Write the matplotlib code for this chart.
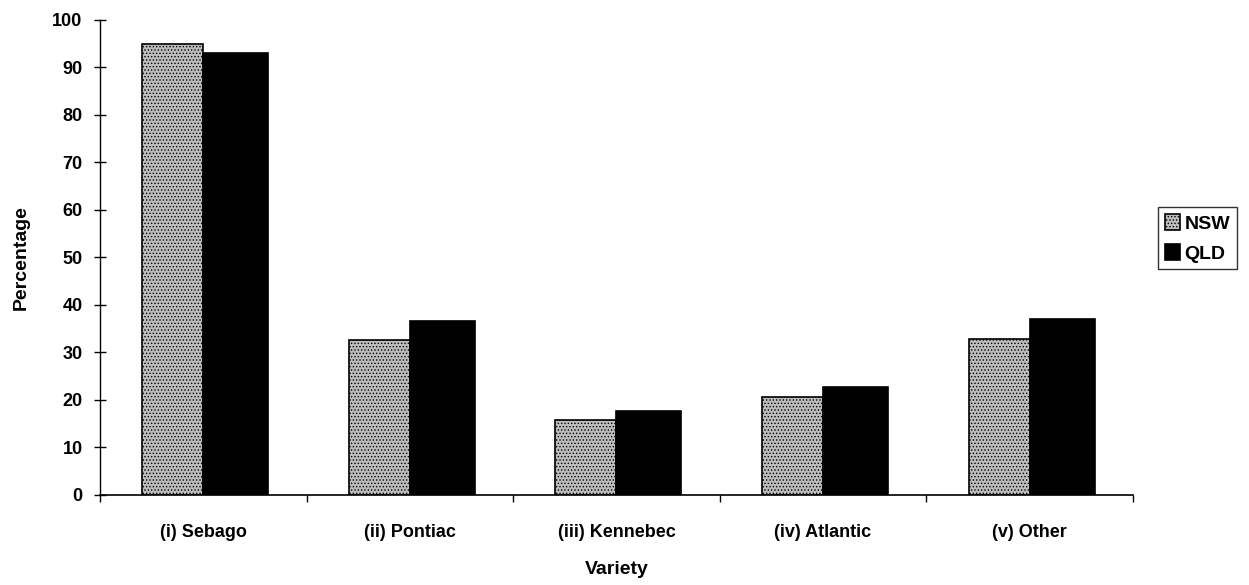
import numpy as np
import matplotlib
matplotlib.use('Agg')
import matplotlib.pyplot as plt
from matplotlib.ticker import FixedLocator

categories = ['(i) Sebago', '(ii) Pontiac', '(iii) Kennebec', '(iv) Atlantic', '(v) Other']
nsw = [95.0, 32.7, 15.7, 20.6, 32.9]
qld = [93.0, 36.7, 17.6, 22.7, 37.0]

plt.rcParams['font.family'] = ['Liberation Sans', 'DejaVu Sans']
plt.rcParams['hatch.linewidth'] = 0.6

fig = plt.figure(figsize=(12.49, 5.85), dpi=100)
ax = fig.add_axes([0.080, 0.154, 0.827, 0.812])

x = np.arange(len(categories))
w = 0.295
ax.bar(x - w / 2, nsw, w, color='#bdbdbd', edgecolor='black', hatch='.....',
       linewidth=1.2, label='NSW')
ax.bar(x + w / 2 + 0.01, qld, w + 0.02, color='black', edgecolor='black',
       linewidth=1.2, label='QLD')

ax.set_xlim(-0.5, len(categories) - 0.5)
ax.set_ylim(0, 100)
ax.set_yticks(np.arange(0, 101, 10))
ax.set_xticks(x)
ax.set_xticklabels(categories)
ax.xaxis.set_minor_locator(FixedLocator(np.arange(-0.5, len(categories), 1)))
ax.tick_params(axis='x', which='major', length=0, pad=21, labelsize=13)
ax.tick_params(axis='x', which='minor', length=5, direction='out', width=1)
ax.tick_params(axis='y', length=9, direction='inout', width=1, labelsize=13, pad=8)
for lbl in ax.get_xticklabels() + ax.get_yticklabels():
    lbl.set_fontweight('bold')

for s in ['top', 'right']:
    ax.spines[s].set_visible(False)
ax.spines['left'].set_linewidth(1)
ax.spines['bottom'].set_linewidth(1.2)

ax.set_xlabel('Variety', fontsize=14, fontweight='bold', labelpad=14)
ax.set_ylabel('Percentage', fontsize=14, fontweight='bold', labelpad=16)

leg = ax.legend(loc='center left', bbox_to_anchor=(1.015, 0.54), frameon=True,
                fancybox=False, edgecolor='black', fontsize=14, handlelength=0.8,
                handleheight=0.9, handletextpad=0.2, borderpad=0.35, labelspacing=0.55)
leg.get_frame().set_linewidth(1)
for t in leg.get_texts():
    t.set_fontweight('bold')

fig.savefig('out.png', dpi=100)
